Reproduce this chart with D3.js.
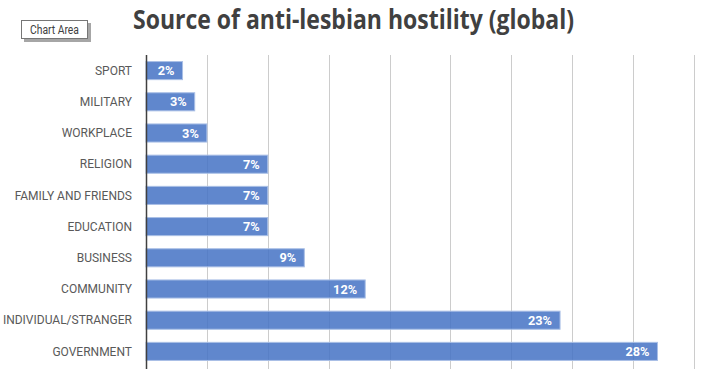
<!DOCTYPE html>
<html>
<head>
<meta charset="utf-8">
<script src="https://cdn.jsdelivr.net/npm/d3@7"></script>
<style>
  body { margin: 0; background: #fff; }
  svg { display: block; }
</style>
</head>
<body>
<script>
const categories = ["SPORT", "MILITARY", "WORKPLACE", "RELIGION", "FAMILY AND FRIENDS",
                    "EDUCATION", "BUSINESS", "COMMUNITY", "INDIVIDUAL/STRANGER", "GOVERNMENT"];
const counts = [3, 4, 5, 10, 10, 10, 13, 18, 34, 42];
const pctLabels = ["2%", "3%", "3%", "7%", "7%", "7%", "9%", "12%", "23%", "28%"];
const xTicks = [0, 5, 10, 15, 20, 25, 30, 35, 40, 45];

const width = 716;
const height = 369;
const plotLeft = 146, plotRight = 694, plotTop = 55, plotBottom = 367;

const svg = d3.select("body")
              .append("svg")
              .attr("width", width)
              .attr("height", height);

const xScale = d3.scaleLinear().domain([0, 45]).range([plotLeft, plotRight]);
const yScale = d3.scaleBand().domain(categories).range([plotTop, plotBottom]).paddingInner(0.42).paddingOuter(0.21);

function narrow(f) {
    return sel => sel.each(function() {
        let w = this.getComputedTextLength();
        d3.select(this).attr("textLength", w * f).attr("lengthAdjust", "spacingAndGlyphs");
    });
}

// title
svg.append("text")
   .attr("x", 353.5)
   .attr("y", 29)
   .attr("text-anchor", "middle")
   .attr("font-family", "Open Sans, sans-serif")
   .attr("font-weight", "bold")
   .attr("font-size", 26)
   .attr("fill", "#404040")
   .attr("textLength", 441)
   .attr("lengthAdjust", "spacingAndGlyphs")
   .text("Source of anti-lesbian hostility (global)");

// gridlines
svg.append("g")
   .selectAll("line")
   .data(xTicks.slice(1))
   .enter()
   .append("line")
   .attr("x1", d => Math.round(xScale(d)) + 0.5)
   .attr("x2", d => Math.round(xScale(d)) + 0.5)
   .attr("y1", plotTop)
   .attr("y2", height)
   .attr("stroke", "#cccccc")
   .attr("stroke-width", 1);

// bars
svg.selectAll("rect.bar")
   .data(counts)
   .enter()
   .append("rect")
   .attr("class", "bar")
   .attr("x", xScale(0))
   .attr("y", (d, i) => yScale(categories[i]))
   .attr("width", d => xScale(d) - xScale(0))
   .attr("height", yScale.bandwidth())
   .attr("fill", "#4472c4")
   .attr("fill-opacity", 0.85)
   .attr("stroke", "#a9bfe6")
   .attr("stroke-width", 1);

// data labels
svg.selectAll("text.lbl")
   .data(counts)
   .enter()
   .append("text")
   .attr("class", "lbl")
   .attr("x", d => xScale(d) - 8)
   .attr("y", (d, i) => yScale(categories[i]) + yScale.bandwidth() / 2 + 4.5)
   .attr("text-anchor", "end")
   .attr("font-family", "Roboto, sans-serif")
   .attr("font-weight", "bold")
   .attr("font-size", 12.5)
   .attr("fill", "#fff")
   .text((d, i) => pctLabels[i])
   .call(narrow(1.02));

// y axis
const yAxis = d3.axisLeft(yScale).tickSize(0).tickPadding(14);
const gy = svg.append("g")
   .attr("transform", "translate(" + plotLeft + ",0)")
   .call(yAxis);
gy.select(".domain").remove();
gy.selectAll("text")
  .attr("font-family", "Roboto, sans-serif")
  .attr("font-size", 12)
  .attr("fill", "#595959")
  .attr("dy", "0.35em")
  .call(narrow(1.0));

svg.append("line")
   .attr("x1", plotLeft + 0.5)
   .attr("x2", plotLeft + 0.5)
   .attr("y1", plotTop)
   .attr("y2", height)
   .attr("stroke", "#404040")
   .attr("stroke-width", 1.5);

// "Chart Area" tooltip
const tip = svg.append("g").attr("transform", "translate(21,20)");
tip.append("rect")
   .attr("x", 3).attr("y", 3).attr("width", 67).attr("height", 19)
   .attr("fill", "#a6a6a6");
tip.append("rect")
   .attr("x", 0.5).attr("y", 0.5).attr("width", 66).attr("height", 18)
   .attr("fill", "#fff")
   .attr("stroke", "#767676");
tip.append("text")
   .attr("x", 33.5).attr("y", 13.5)
   .attr("text-anchor", "middle")
   .attr("font-family", "Roboto, sans-serif")
   .attr("font-size", 12)
   .attr("fill", "#404040")
   .text("Chart Area")
   .call(narrow(0.86));
</script>
</body>
</html>
